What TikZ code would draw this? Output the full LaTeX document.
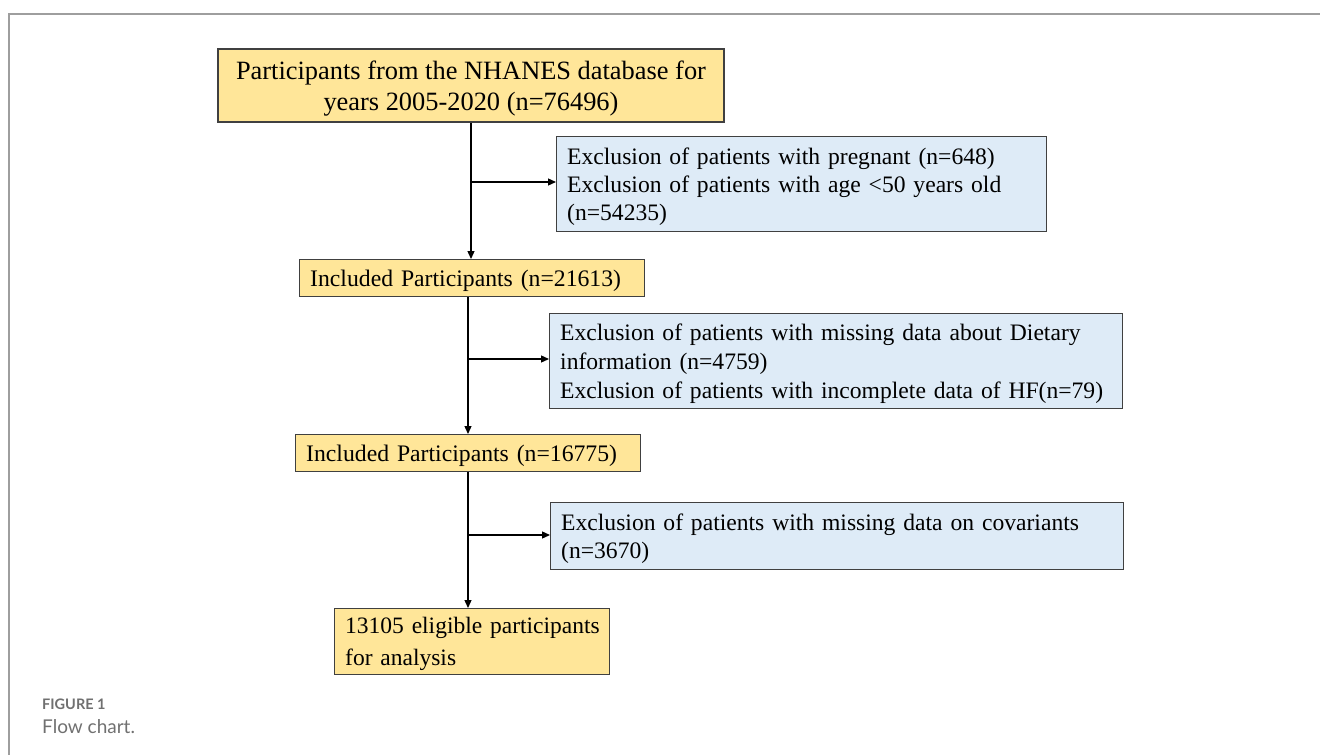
\documentclass[tikz,border=0pt]{standalone}
\usepackage{fontspec}
\setmainfont{Liberation Serif}
\newfontfamily\capfont{Lato}
\usetikzlibrary{arrows.meta}
\definecolor{boxyellow}{HTML}{FFE699}
\definecolor{boxblue}{HTML}{DEEBF7}
\definecolor{boxline}{HTML}{404040}
\definecolor{framegray}{HTML}{9E9E9E}
\definecolor{capgray}{HTML}{707070}
\tikzset{
  flowbox/.style={draw=boxline, line width=1.4pt, inner sep=0pt},
  incbox/.style={flowbox, fill=boxyellow},
  leftbox/.style={inner xsep=10.5pt, align=left, anchor=north west},
  excbox/.style={flowbox, fill=boxblue, leftbox},
  arr/.style={line width=1.3pt, -{Triangle[length=8pt,width=7pt]}},
}
\begin{document}
\begin{tikzpicture}[x=1pt,y=-1pt]
\useasboundingbox (0,0) rectangle (1320,755);
% frame
\draw[framegray, line width=2pt] (9,755) -- (9,14) -- (1320,14);

% inclusion boxes
\node[incbox, align=center, text depth=0pt, minimum width=506pt, minimum height=73pt, font=\fontsize{26.4}{31}\selectfont]
  (b1) at (471,85.5) {Participants from the NHANES database for\\years 2005-2020 (n=76496)};
\node[incbox, leftbox, text depth=0pt, minimum width=345pt, minimum height=37pt, text width=324pt, font=\fontsize{23.7}{28}\selectfont]
  (b3) at (299,259) {\mbox{Included Participants (n=21613)}};
\node[incbox, leftbox, text depth=0pt, minimum width=345pt, minimum height=37pt, text width=324pt, font=\fontsize{23.7}{28}\selectfont]
  (b5) at (295,434) {\mbox{Included Participants (n=16775)}};
\node[incbox, leftbox, text depth=32pt, minimum width=275pt, minimum height=66pt, text width=254pt, font=\fontsize{23.5}{32}\selectfont]
  (b7) at (334,608) {\mbox{13105 eligible participants}\\for analysis};

% exclusion boxes
\node[excbox, text depth=56pt, minimum height=95pt, text width=469pt, font=\fontsize{23.6}{28}\selectfont]
  (b2) at (556,136) {\mbox{Exclusion of patients with pregnant (n=648)}\\\mbox{Exclusion of patients with age <50 years old}\\(n=54235)};
\node[excbox, text depth=58pt, minimum height=95pt, text width=552pt, font=\fontsize{23.6}{29}\selectfont]
  (b4) at (549,313) {\mbox{Exclusion of patients with missing data about Dietary}\\\mbox{information (n=4759)}\\\mbox{Exclusion of patients with incomplete data of HF(n=79)}};
\node[excbox, text depth=28pt, minimum height=67pt, text width=552pt, font=\fontsize{23.6}{28}\selectfont]
  (b6) at (550,502) {\mbox{Exclusion of patients with missing data on covariants}\\(n=3670)};

% connectors
\coordinate (j1) at (471,182);
\coordinate (j2) at (468,359);
\coordinate (j3) at (468,535);
\draw[arr] (b1.south -| j1) -- (b3.north -| j1);
\draw[arr] (j1) -- (b2.west |- j1);
\draw[arr] (b3.south -| j2) -- (b5.north -| j2);
\draw[arr] (j2) -- (b4.west |- j2);
\draw[arr] (b5.south -| j3) -- (b7.north -| j3);
\draw[arr] (j3) -- (b6.west |- j3);

% caption
\node[anchor=west, inner sep=0pt, text=capgray, font=\capfont\bfseries\fontsize{14.5}{16}\selectfont] (cap1) at (42,704) {FIGURE 1};
\node[anchor=west, inner sep=0pt, text=capgray, font=\capfont\fontsize{19}{22}\selectfont] (cap2) at (42,727) {Flow chart.};
\end{tikzpicture}
\end{document}
